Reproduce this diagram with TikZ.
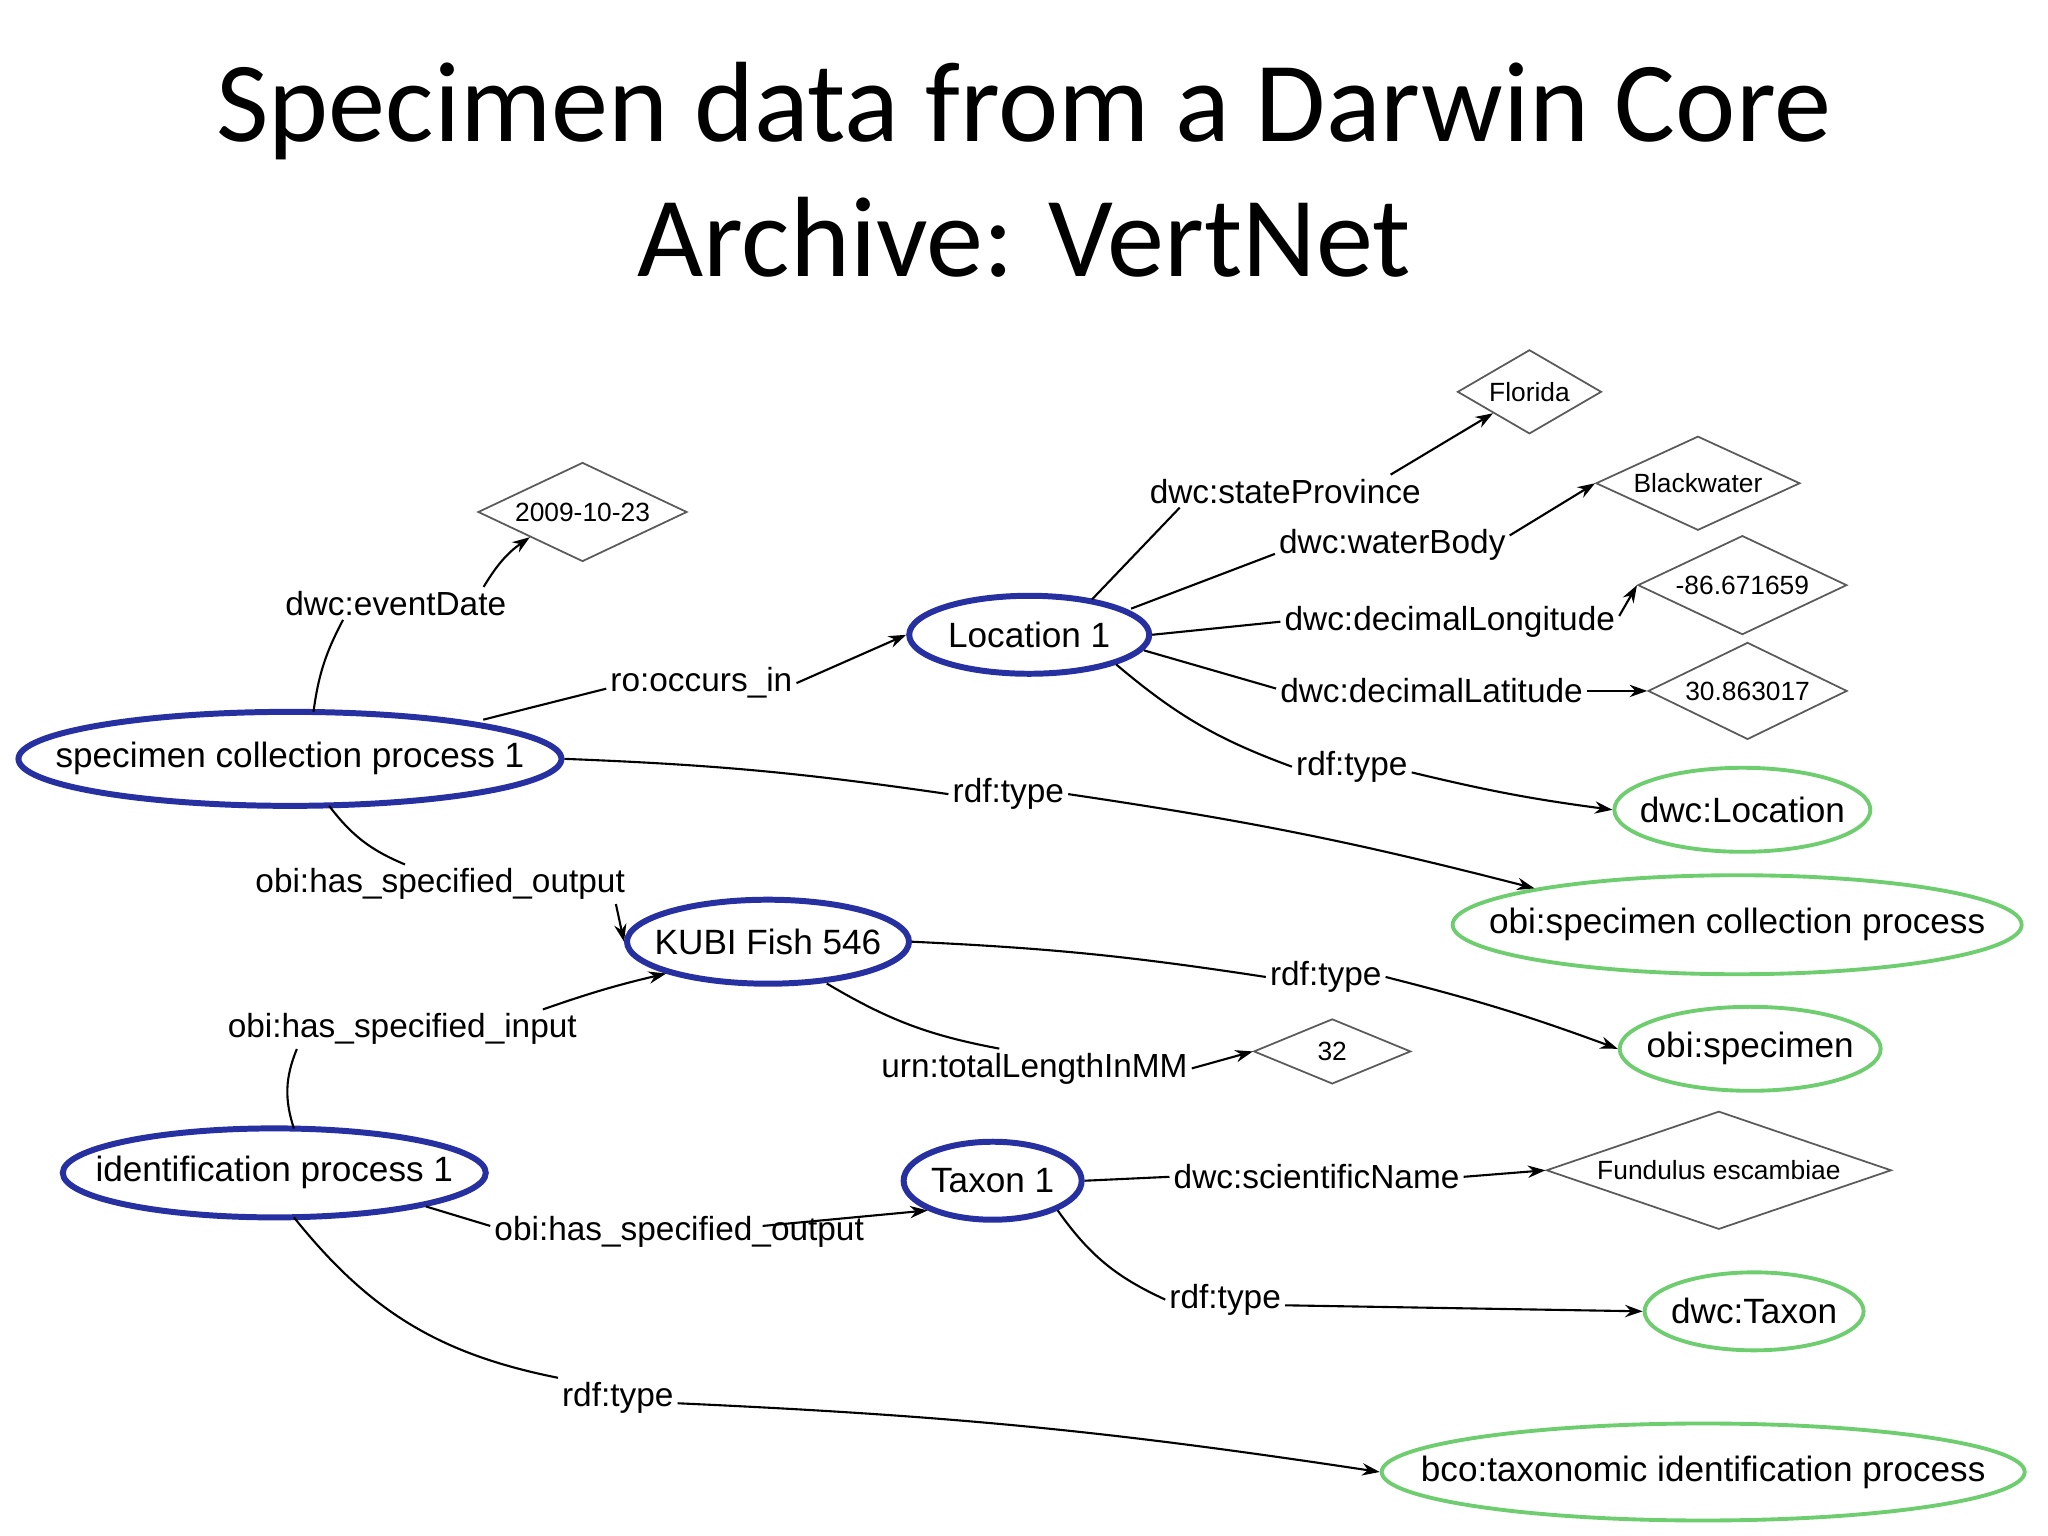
\documentclass[tikz,border=0pt]{standalone}
\usepackage{fontspec}
\setmainfont{Liberation Sans}
\newfontfamily\titlefont{Carlito}
\usetikzlibrary{shapes.geometric,arrows.meta}
\definecolor{nblue}{RGB}{38,48,160}
\definecolor{ngreen}{RGB}{110,205,110}
\definecolor{ngray}{RGB}{90,90,90}
\newcommand{\zb}[1]{\makebox[0pt]{#1}}
\tikzset{
  bnode/.style={ellipse,draw=nblue,line width=1.7pt,inner sep=0pt,font=\fontsize{10}{12}\selectfont},
  gnode/.style={ellipse,draw=ngreen,line width=1.1pt,inner sep=0pt,font=\fontsize{10}{12}\selectfont},
  dnode/.style={diamond,draw=ngray,line width=0.5pt,inner sep=0pt,font=\fontsize{7.5}{9}\selectfont},
  lbl/.style={inner sep=1pt,font=\fontsize{9.5}{11}\selectfont},
  ln/.style={line width=0.6pt},
  ar/.style={line width=0.6pt,-{Stealth[length=5pt,width=3.5pt]}}
}
\begin{document}
\begin{tikzpicture}[x=0.013061cm,y=-0.013061cm]
\useasboundingbox (0,0) rectangle (1568,1176);
\node[font=\titlefont\fontsize{32.5}{38.6}\selectfont,align=center] (title) at (784,130) {Specimen data from a Darwin Core\\Archive: VertNet};

\node[bnode,minimum width=5.43cm,minimum height=0.94cm] (spc) at (222,581) {\zb{specimen collection process 1}};
\node[bnode,minimum width=2.40cm,minimum height=0.78cm] (loc) at (788,486) {\zb{Location 1}};
\node[bnode,minimum width=2.82cm,minimum height=0.84cm] (kubi) at (588,721) {\zb{KUBI Fish 546}};
\node[bnode,minimum width=4.23cm,minimum height=0.89cm] (idp) at (210,898) {\zb{identification process 1}};
\node[bnode,minimum width=1.78cm,minimum height=0.78cm] (taxon) at (760,904) {\zb{Taxon 1}};

\node[gnode,minimum width=2.56cm,minimum height=0.84cm] (dwcLoc) at (1334,620) {\zb{dwc:Location}};
\node[gnode,minimum width=5.69cm,minimum height=0.99cm] (obispc) at (1330,708) {\zb{obi:specimen collection process}};
\node[gnode,minimum width=2.61cm,minimum height=0.84cm] (obispec) at (1340,803) {\zb{obi:specimen}};
\node[gnode,minimum width=2.19cm,minimum height=0.78cm] (dwcTaxon) at (1343,1004) {\zb{dwc:Taxon}};
\node[gnode,minimum width=6.43cm,minimum height=0.97cm] (bco) at (1304,1127) {\zb{bco:taxonomic identification process}};

\node[dnode,minimum width=2.09cm,minimum height=0.99cm] (date) at (446,392) {\zb{2009-10-23}};
\node[dnode,minimum width=1.44cm,minimum height=0.84cm] (florida) at (1171,300) {\zb{Florida}};
\node[dnode,minimum width=2.04cm,minimum height=0.94cm] (black) at (1300,370) {\zb{Blackwater}};
\node[dnode,minimum width=2.09cm,minimum height=0.99cm] (long) at (1334,448) {\zb{-86.671659}};
\node[dnode,minimum width=1.99cm,minimum height=0.97cm] (lat) at (1338,529) {\zb{30.863017}};
\node[dnode,minimum width=1.57cm,minimum height=0.65cm] (n32) at (1020,805) {\zb{32}};
\node[dnode,minimum width=3.45cm,minimum height=1.18cm] (fund) at (1316,896) {\zb{Fundulus escambiae}};

\node[lbl] (l1) at (303,462) {dwc:eventDate};
\node[lbl] (l2) at (537,523) {ro:occurs\_in};
\node[lbl] (l3) at (984,376) {dwc:stateProvince};
\node[lbl] (l4) at (1066,417) {dwc:waterBody};
\node[lbl] (l5) at (1110,476) {dwc:decimalLongitude};
\node[lbl] (l6) at (1096,529) {dwc:decimalLatitude};
\node[lbl] (l7) at (1035,587) {rdf:type};
\node[lbl] (l8) at (772,608) {rdf:type};
\node[lbl] (l9) at (337,677) {obi:has\_specified\_output};
\node[lbl] (l10) at (1015,748) {rdf:type};
\node[lbl] (l11) at (792,818) {urn:totalLengthInMM};
\node[lbl] (l12) at (308,788) {obi:has\_specified\_input};
\node[lbl] (l13) at (520,943) {obi:has\_specified\_output};
\node[lbl] (l14) at (1008,901) {dwc:scientificName};
\node[lbl] (l15) at (938,995) {rdf:type};
\node[lbl] (l16) at (473,1070) {rdf:type};

\draw[ln] (spc.center) ++(18,-36) coordinate (s1) to[bend left=10] ([xshift=-15]l1.south);
\draw[ar] ([xshift=25]l1.north) to[bend left=12] (date.south west);
\draw[ln] (spc.center) ++(148,-30) coordinate (s2) -- ([yshift=4]l2.south west);
\draw[ar] (l2.east) -- (loc.west);
\draw[ln] (loc.center) ++(48,-27) coordinate (s3) -- ([xshift=-30]l3.south);
\draw[ar] ([xshift=30]l3.north) -- (florida.south west);
\draw[ln] (loc.center) ++(78,-20) coordinate (s4) -- ([yshift=3]l4.south west);
\draw[ar] ([yshift=-3]l4.north east) -- (black.west);
\draw[ln] (loc.east) -- (l5.west);
\draw[ar] ([yshift=-4]l5.north east) -- (long.west);
\draw[ln] (loc.center) ++(88,12) coordinate (s6) -- ([yshift=-4]l6.north west);
\draw[ar] (l6.east) -- (lat.west);
\draw[ln] (loc.south east) to[bend right=10] (l7.west);
\draw[ar] ([yshift=4]l7.south east) to[bend right=3] (dwcLoc.west);
\draw[ln] (spc.east) to[bend left=3] (l8.west);
\draw[ar] (l8.east) to[bend left=3] (obispc.north west);
\draw[ln] (spc.center) ++(30,36) coordinate (s9) to[bend right=15] ([xshift=-10]l9.north);
\draw[ar] ([xshift=50]l9.south) -- (kubi.west);
\draw[ln] (kubi.east) to[bend left=3] (l10.west);
\draw[ar] (l10.east) to[bend left=3] (obispec.west);
\draw[ln] (kubi.center) ++(45,32) coordinate (s11) to[bend right=10] ([xshift=-10]l11.north);
\draw[ar] (l11.east) -- (n32.west);
\draw[ln] (idp.center) ++(15,-34) coordinate (s12) to[bend left=20] ([xshift=-30]l12.south);
\draw[ar] ([xshift=40]l12.north) to[bend left=3] (kubi.south west);
\draw[ln] (idp.south east) -- ([yshift=-4]l13.north west);
\draw[ar] ([xshift=-30,yshift=-4]l13.north east) -- (taxon.south west);
\draw[ln] (taxon.east) -- (l14.west);
\draw[ar] (l14.east) -- (fund.west);
\draw[ln] (taxon.south east) to[bend right=15] (l15.west);
\draw[ar] ([yshift=4]l15.south east) -- (dwcTaxon.west);
\draw[ln] (idp.center) ++(15,34) coordinate (s16) to[bend right=20] (l16.north west);
\draw[ar] ([yshift=4]l16.south east) to[bend left=3] (bco.west);
\end{tikzpicture}
\end{document}
